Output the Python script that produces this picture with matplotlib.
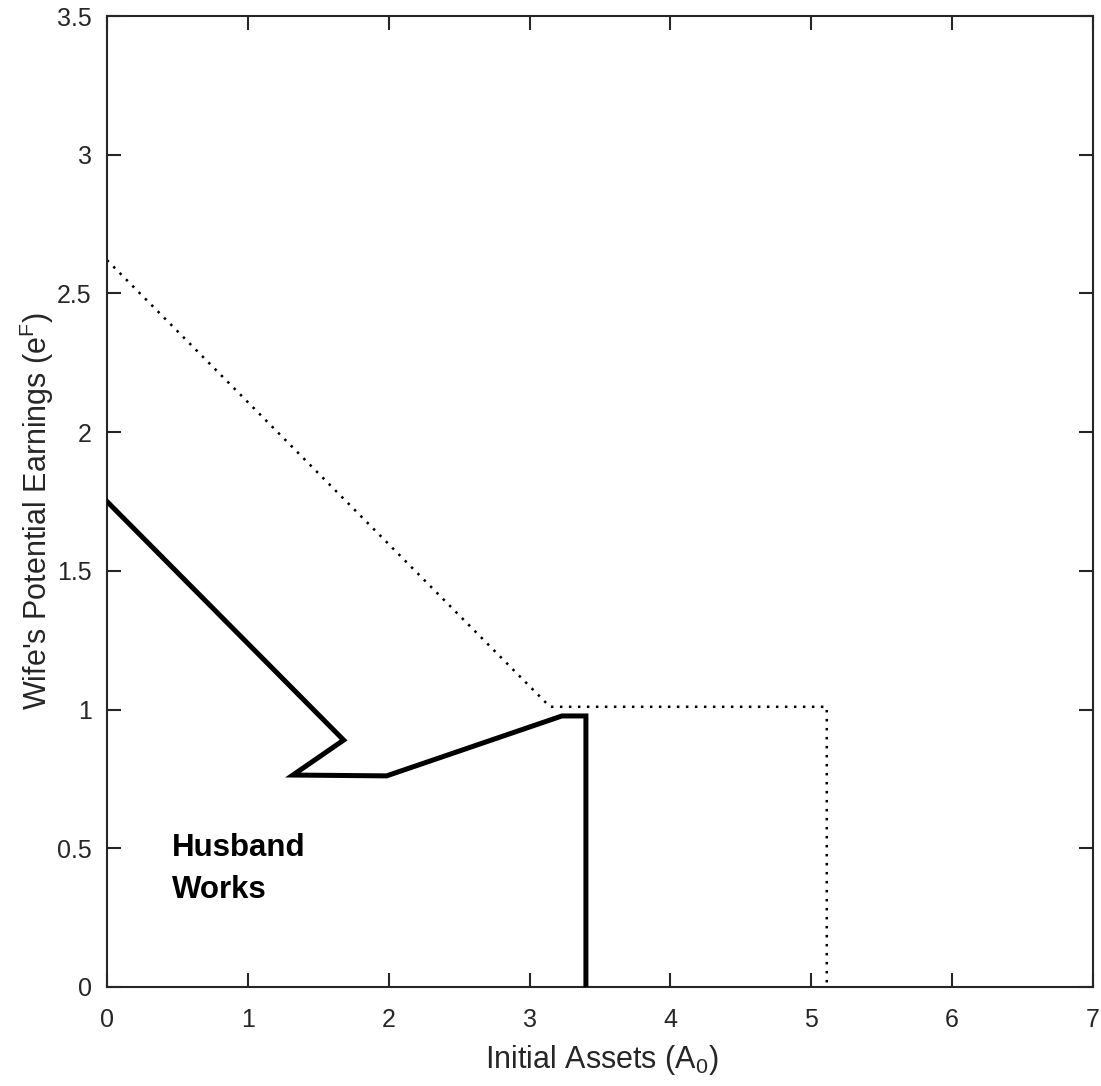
import matplotlib
matplotlib.use("Agg")
import matplotlib.pyplot as plt

plt.rcParams['font.family'] = ['Liberation Sans', 'DejaVu Sans']
plt.rcParams['mathtext.default'] = 'regular'

# Solid boundary (husband works region)
solid_x = [0.0, 1.68, 1.32, 1.985, 3.23, 3.40, 3.40]
solid_y = [1.75, 0.89, 0.764, 0.761, 0.977, 0.977, 0.0]

# Dotted boundary
dot_x = [0.0, 3.145, 5.11, 5.11]
dot_y = [2.62, 1.01, 1.01, 0.0]

xticks = [0, 1, 2, 3, 4, 5, 6, 7]
yticks = [0, 0.5, 1, 1.5, 2, 2.5, 3, 3.5]
ytick_labels = ['0', '0.5', '1', '1.5', '2', '2.5', '3', '3.5']

fig = plt.figure(figsize=(11.01, 10.86), dpi=100)
ax = fig.add_axes([107/1101, 1 - 987/1086, (1093 - 107)/1101, (987 - 16)/1086])

ax.plot(solid_x, solid_y, color='black', lw=3.6, solid_joinstyle='miter', zorder=3)
ax.plot(dot_x, dot_y, color='black', lw=1.8, linestyle=(0, (1, 2.6)), zorder=2)

ax.text(0.46, 0.50, 'Husband', fontsize=22.5, fontweight='bold', va='center', ha='left')
ax.text(0.46, 0.35, 'Works', fontsize=22.5, fontweight='bold', va='center', ha='left')

ax.set_xlim(0, 7)
ax.set_ylim(0, 3.5)
ax.set_xticks(xticks)
ax.set_xticklabels([str(t) for t in xticks])
ax.set_yticks(yticks)
ax.set_yticklabels(ytick_labels)

for s in ax.spines.values():
    s.set_color('#262626')
    s.set_linewidth(1.5)
ax.tick_params(direction='in', length=10, width=1.5, color='#262626',
               labelsize=18, labelcolor='#262626', top=True, right=True)
ax.tick_params(axis='x', pad=15)
ax.tick_params(axis='y', pad=11)

ax.set_xlabel('Initial Assets (A$_0$)', fontsize=22, color='#262626')
ax.set_ylabel("Wife's Potential Earnings (e$^F$)", fontsize=22, color='#262626')
ax.xaxis.set_label_coords(0.502, -0.058)
ax.yaxis.set_label_coords(-0.052, 0.49)

fig.savefig('out.png', dpi=100)
